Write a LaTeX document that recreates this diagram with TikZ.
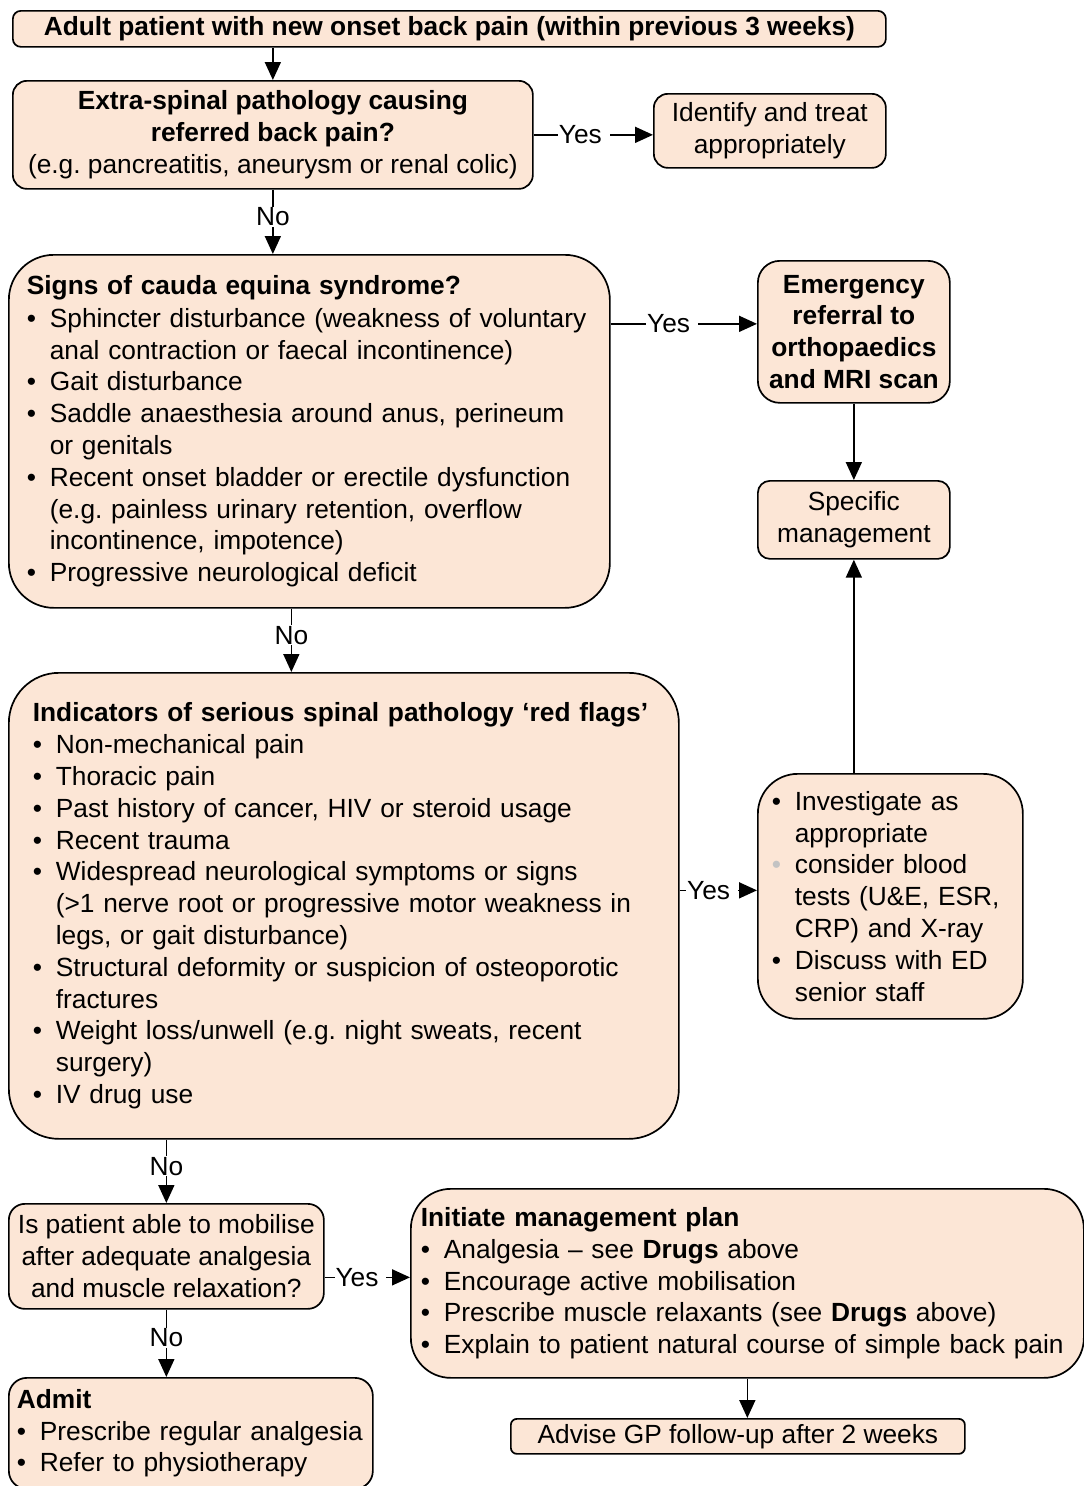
\documentclass[tikz,border=0pt]{standalone}
\usepackage{fontspec}
\setmainfont{Liberation Sans}
\usetikzlibrary{arrows.meta,calc}
\definecolor{boxfill}{RGB}{252,230,214}
\definecolor{dotgray}{RGB}{195,195,195}
\newcommand{\itm}[1]{\mbox{\makebox[23pt][l]{•}#1}}
\newcommand{\itmg}[1]{\mbox{\makebox[23pt][l]{\color{dotgray}•}#1}}
\newcommand{\cnt}[1]{\mbox{\hspace*{23pt}#1}}
\frenchspacing

\begin{document}
\begin{tikzpicture}[x=1pt,y=-1pt,
  box/.style={draw, line width=1.7pt, fill=boxfill, anchor=north west, inner ysep=0pt,
    font=\fontsize{26.3}{31.8}\selectfont},
  ctr/.style={box, align=center, inner xsep=0pt},
  lst/.style={box, align=left, inner xsep=#1},
  arr/.style={line width=1.7pt, -{Triangle[length=18pt,width=16pt]}},
  lbl/.style={fill=white, inner xsep=1pt, inner ysep=1pt, pos=0.42,
    font=\fontsize{26.3}{31.8}\selectfont}]
\useasboundingbox (0,0) rectangle (1084,1486);
% left column:
\node[ctr, rounded corners=8pt, minimum width=873pt, minimum height=36pt] (start) at (12,10)
  {\textbf{Adult patient with new onset back pain (within previous 3 weeks)}};
\node[ctr, rounded corners=14pt, minimum width=520pt, minimum height=108pt] (ext) at (12,80)
  {\textbf{Extra-spinal pathology causing}\\ \textbf{referred back pain?}\\ (e.g. pancreatitis, aneurysm or renal colic)};
\node[lst=18pt, rounded corners=45pt, text width=565pt, minimum width=601pt, minimum height=353pt] (cauda) at (8,254)
  {\textbf{Signs of cauda equina syndrome?}\\[1pt]
   \itm{Sphincter disturbance (weakness of voluntary}\\
   \cnt{anal contraction or faecal incontinence)}\\
   \itm{Gait disturbance}\\
   \itm{Saddle anaesthesia around anus, perineum}\\
   \cnt{or genitals}\\
   \itm{Recent onset bladder or erectile dysfunction}\\
   \cnt{(e.g. painless urinary retention, overflow}\\
   \cnt{incontinence, impotence)}\\
   \itm{Progressive neurological deficit}};
\node[lst=24pt, rounded corners=50pt, text width=622pt, minimum width=670pt, minimum height=466pt] (flags) at (8,672)
  {\textbf{Indicators of serious spinal pathology ‘red flags’}\\
   \itm{Non-mechanical pain}\\
   \itm{Thoracic pain}\\
   \itm{Past history of cancer, HIV or steroid usage}\\
   \itm{Recent trauma}\\
   \itm{Widespread neurological symptoms or signs}\\
   \cnt{(>1 nerve root or progressive motor weakness in}\\
   \cnt{legs, or gait disturbance)}\\
   \itm{Structural deformity or suspicion of osteoporotic}\\
   \cnt{fractures}\\
   \itm{Weight loss/unwell (e.g. night sweats, recent}\\
   \cnt{surgery)}\\
   \itm{IV drug use}};
\node[ctr, rounded corners=16pt, minimum width=315pt, minimum height=105pt] (mob) at (8,1203)
  {Is patient able to mobilise\\ after adequate analgesia\\ and muscle relaxation?};
\node[lst=8pt, rounded corners=18pt, text width=348pt, minimum width=364pt, minimum height=111pt] (admit) at (8,1377)
  {\textbf{Admit}\\
   \itm{Prescribe regular analgesia}\\
   \itm{Refer to physiotherapy}};
% right column:
\node[ctr, rounded corners=14pt, minimum width=232pt, minimum height=74pt] (ident) at (653,93)
  {Identify and treat\\ appropriately};
\node[ctr, rounded corners=22pt, minimum width=192pt, minimum height=142pt] (emerg) at (757,260)
  {\textbf{Emergency}\\ \textbf{referral to}\\ \textbf{orthopaedics}\\ \textbf{and MRI scan}};
\node[ctr, rounded corners=12pt, minimum width=192pt, minimum height=78pt] (spec) at (757,480)
  {Specific\\ management};
\node[lst=14pt, rounded corners=40pt, text width=237pt, minimum width=265pt, minimum height=245pt] (invest) at (757,773)
  {\itm{Investigate as}\\
   \cnt{appropriate}\\
   \itmg{consider blood}\\
   \cnt{tests (U\&E, ESR,}\\
   \cnt{CRP) and X-ray}\\
   \itm{Discuss with ED}\\
   \cnt{senior staff}};
\node[lst=10pt, rounded corners=40pt, text width=653pt, minimum width=673pt, minimum height=189pt] (init) at (410,1188)
  {\textbf{Initiate management plan}\\
   \itm{Analgesia – see \textbf{Drugs} above}\\
   \itm{Encourage active mobilisation}\\
   \itm{Prescribe muscle relaxants (see \textbf{Drugs} above)}\\
   \itm{Explain to patient natural course of simple back pain}};
\node[ctr, rounded corners=6pt, minimum width=454pt, minimum height=35pt] (advise) at (510,1418)
  {Advise GP follow-up after 2 weeks};
% connectors:
\coordinate (c1) at ($(cauda.south)+(-18,0)$);
\coordinate (c2) at ($(emerg.west)+(0,-8)$);
\coordinate (c3) at ($(invest.west)+(0,-6)$);
\coordinate (c4) at ($(init.west)+(0,-6)$);
\draw[arr] (start.south -| ext.north) -- (ext.north);
\draw[arr] (ext.east) -- node[lbl] {Yes\hspace*{7pt}} (ident.west |- ext.east);
\draw[arr] (ext.south) -- node[lbl] {No} (ext.south |- cauda.north);
\draw[arr] (cauda.east |- c2) -- node[lbl] {Yes\hspace*{7pt}} (c2);
\draw[arr] (emerg.south) -- (spec.north);
\draw[arr] (c1) -- node[lbl] {No} (c1 |- flags.north);
\draw[arr] (flags.east |- c3) -- node[lbl] {Yes\hspace*{7pt}} (c3);
\draw[arr] (invest.north -| spec.south) -- (spec.south);
\draw[arr] (flags.south -| mob.north) -- node[lbl] {No} (mob.north);
\draw[arr] (mob.east |- c4) -- node[lbl] {Yes\hspace*{7pt}} (c4);
\draw[arr] (mob.south) -- node[lbl] {No} (mob.south |- admit.north);
\draw[arr] (init.south) -- (init.south |- advise.north);
\end{tikzpicture}
\end{document}
